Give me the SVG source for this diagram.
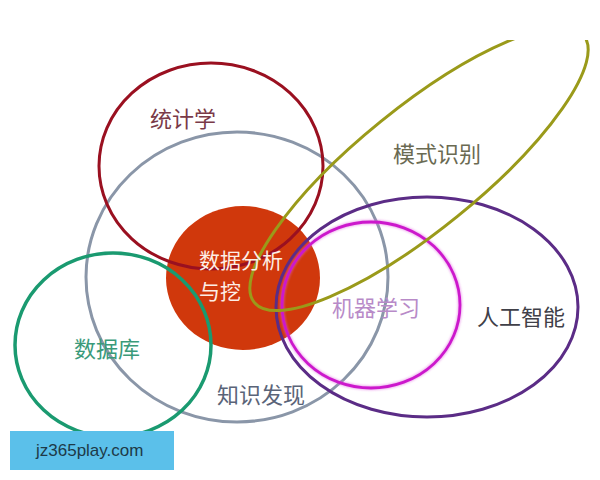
<svg xmlns="http://www.w3.org/2000/svg" width="600" height="480" viewBox="0 0 600 480">
<defs>
<style>
.ring{fill:none;}
.lbl{font-family:"Noto Sans CJK SC","Noto Sans",sans-serif;font-size:22px;dominant-baseline:central;}
.core{font-size:21px;}
</style>
<clipPath id="clip"><rect x="0" y="40" width="600" height="440"/></clipPath>
<filter id="glow" x="-10%" y="-10%" width="120%" height="120%"><feGaussianBlur stdDeviation="1"/></filter>
</defs>
<rect width="600" height="480" fill="#ffffff"/>
<g clip-path="url(#clip)">
<g id="node-core">
<ellipse cx="243" cy="278" rx="77" ry="72" fill="#d0380c"/>
</g>
<g id="node-knowledge">
<ellipse class="ring" cx="237" cy="277" rx="151" ry="145" stroke="#8a96a8" stroke-width="3"/>
</g>
<g id="node-stats">
<ellipse class="ring" cx="211" cy="166" rx="112" ry="103" stroke="#9a1020" stroke-width="3"/>
</g>
<g id="node-db">
<ellipse class="ring" cx="113" cy="345" rx="98" ry="92" stroke="#1a9a70" stroke-width="3.5"/>
</g>
<g id="node-ai">
<ellipse class="ring" cx="427" cy="307" rx="151" ry="110" stroke="#5b2c86" stroke-width="3"/>
</g>
<g id="node-ml">
<ellipse class="ring" cx="371" cy="305" rx="89" ry="83" stroke="#e060e0" stroke-width="4.5" filter="url(#glow)" opacity="0.5"/>
<ellipse class="ring" cx="371" cy="305" rx="89" ry="83" stroke="#cc18cc" stroke-width="2.8"/>
</g>
<g id="node-pattern">
<ellipse class="ring" cx="419" cy="169" rx="212" ry="61" transform="rotate(-39 419 169)" stroke="#9a9a1a" stroke-width="3"/>
</g>
<g id="connectors"></g>
<g id="labels">
<text class="lbl" x="150" y="117" fill="#7a3a48">统计学</text>
<text class="lbl" x="393" y="152" fill="#6a6a52">模式识别</text>
<text class="lbl core" x="199" y="259" fill="#fdeee6">数据分析</text>
<text class="lbl core" x="199" y="290" fill="#fdeee6">与挖</text>
<text class="lbl" x="332" y="306" fill="#b88ac8">机器学习</text>
<text class="lbl" x="477" y="315" fill="#404048">人工智能</text>
<text class="lbl" x="74" y="347" fill="#3a9a7a">数据库</text>
<text class="lbl" x="217" y="393" fill="#5a6478">知识发现</text>
</g>
</g>
<g id="watermark">
<rect x="10" y="431" width="164" height="39" fill="#5bc0ea"/>
<text x="36" y="456" font-family="'Liberation Sans',Arial,sans-serif" font-size="17" fill="#1e3a48">jz365play.com</text>
</g>
</svg>
